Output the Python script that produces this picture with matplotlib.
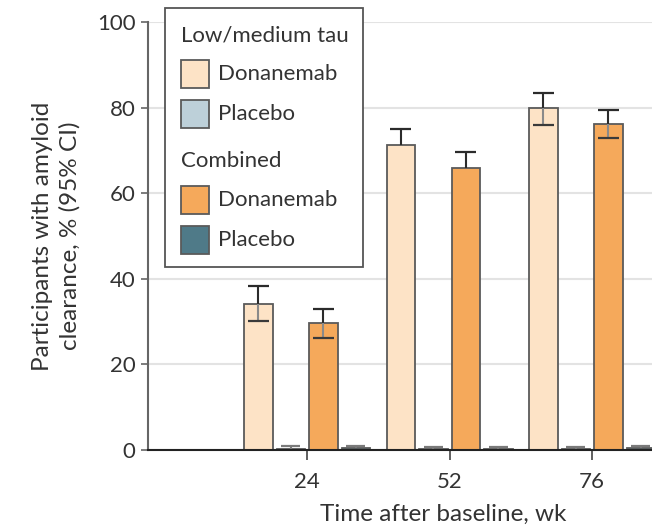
import matplotlib
matplotlib.use("Agg")
import matplotlib.pyplot as plt
from matplotlib.patches import Rectangle
import numpy as np

plt.rcParams['font.family'] = ['Lato', 'DejaVu Sans']

# ====== Data ======
weeks = ["24", "52", "76"]
series_names = ["Low/medium tau Donanemab", "Low/medium tau Placebo",
                "Combined Donanemab", "Combined Placebo"]
values = [
    [34.0, 71.3, 79.9],   # low/medium tau donanemab
    [0.3, 0.3, 0.3],      # low/medium tau placebo
    [29.6, 65.8, 76.2],   # combined donanemab
    [0.4, 0.3, 0.4],      # combined placebo
]
# lower CI not shown at week 52 in the source figure
ci_low = [
    [30.1, np.nan, 76.0],
    [np.nan, np.nan, np.nan],
    [26.2, np.nan, 72.9],
    [np.nan, np.nan, np.nan],
]
ci_high = [
    [38.4, 75.0, 83.3],
    [1.0, 0.8, 0.8],
    [32.9, 69.6, 79.4],
    [1.0, 0.8, 1.0],
]
colors = ["#FDE3C6", "#BDD0D9", "#F5A95B", "#4F7A88"]

W, H = 652, 531


def fx(px):
    return px / W


def fy(py):
    return 1 - py / H


# ====== Plot ======
fig = plt.figure(figsize=(6.52, 5.31), dpi=100)
ax = fig.add_axes([fx(148), fy(450), fx(652) - fx(148), fy(22) - fy(450)])

x = np.arange(len(weeks))
slot = 0.228
width = 0.2
for i in range(4):
    pos = x + (i - 1.5) * slot
    v = np.array(values[i])
    lo = np.array(ci_low[i])
    hi = np.array(ci_high[i])
    drug = i in (0, 2)
    ecol = "#2b2b2b" if drug else "#7a7a7a"
    cap = 0.074 if drug else 0.066
    ax.bar(pos, v, width=width, color=colors[i], edgecolor="#5a5a5a",
           linewidth=1.3, zorder=2)
    # upper whisker + cap
    ax.vlines(pos, v, hi, color=ecol, linewidth=1.5, zorder=3)
    ax.hlines(hi, pos - cap, pos + cap, color=ecol, linewidth=1.6, zorder=3)
    # lower whisker + cap (inside the bar), where shown
    ok = ~np.isnan(lo)
    ax.vlines(pos[ok], lo[ok], v[ok], color="#8a8a8a", linewidth=1.5, zorder=3)
    ax.hlines(lo[ok], pos[ok] - cap, pos[ok] + cap, color="#3a3a3a",
              linewidth=1.6, zorder=3)

ax.set_ylim(0, 100)
ax.set_xlim(-1.116, 2.42)
ax.set_yticks([0, 20, 40, 60, 80, 100])
ax.set_xticks(x)
ax.set_xticklabels(weeks)
ax.yaxis.grid(True, color="#e3e3e3", linewidth=1.5, zorder=0)
ax.set_axisbelow(True)

for s in ["top", "right"]:
    ax.spines[s].set_visible(False)
ax.spines["left"].set_color("#666666")
ax.spines["left"].set_linewidth(1.5)
ax.spines["bottom"].set_color("#222222")
ax.spines["bottom"].set_linewidth(1.5)

ax.tick_params(axis="y", length=5, width=1.2, color="#666666",
               labelsize=16, labelcolor="#333333", pad=4)
ax.tick_params(axis="x", length=7, width=1.2, color="#444444",
               labelsize=16, labelcolor="#333333", pad=9)

ax.set_xlabel("Time after baseline, wk", fontsize=17.5, color="#333333")
ax.xaxis.set_label_coords(0.585, -0.125)
ax.set_ylabel("Participants with amyloid\nclearance, % (95% CI)",
              fontsize=17.5, color="#333333", labelpad=12, linespacing=1.3)

# ====== Legend (drawn by hand to match grouped headers) ======
fig.add_artist(Rectangle((fx(165), fy(267)), fx(363) - fx(165),
                         fy(8) - fy(267), transform=fig.transFigure,
                         facecolor="white", edgecolor="#555555",
                         linewidth=1.3, zorder=5))
entries = [
    ("header", "Low/medium tau", 35),
    (0, "Donanemab", 74),
    (1, "Placebo", 114),
    ("header", "Combined", 161),
    (2, "Donanemab", 200),
    (3, "Placebo", 240),
]
for kind, label, yc in entries:
    if kind == "header":
        fig.text(fx(181), fy(yc), label, fontsize=16, color="#333333",
                 va="center", ha="left", zorder=6)
    else:
        fig.add_artist(Rectangle((fx(181), fy(yc + 14)), fx(28), 28 / H,
                                 transform=fig.transFigure,
                                 facecolor=colors[kind],
                                 edgecolor="#5a5a5a", linewidth=1.3,
                                 zorder=6))
        fig.text(fx(218), fy(yc), label, fontsize=16, color="#333333",
                 va="center", ha="left", zorder=6)

fig.savefig("out.png", dpi=100)
